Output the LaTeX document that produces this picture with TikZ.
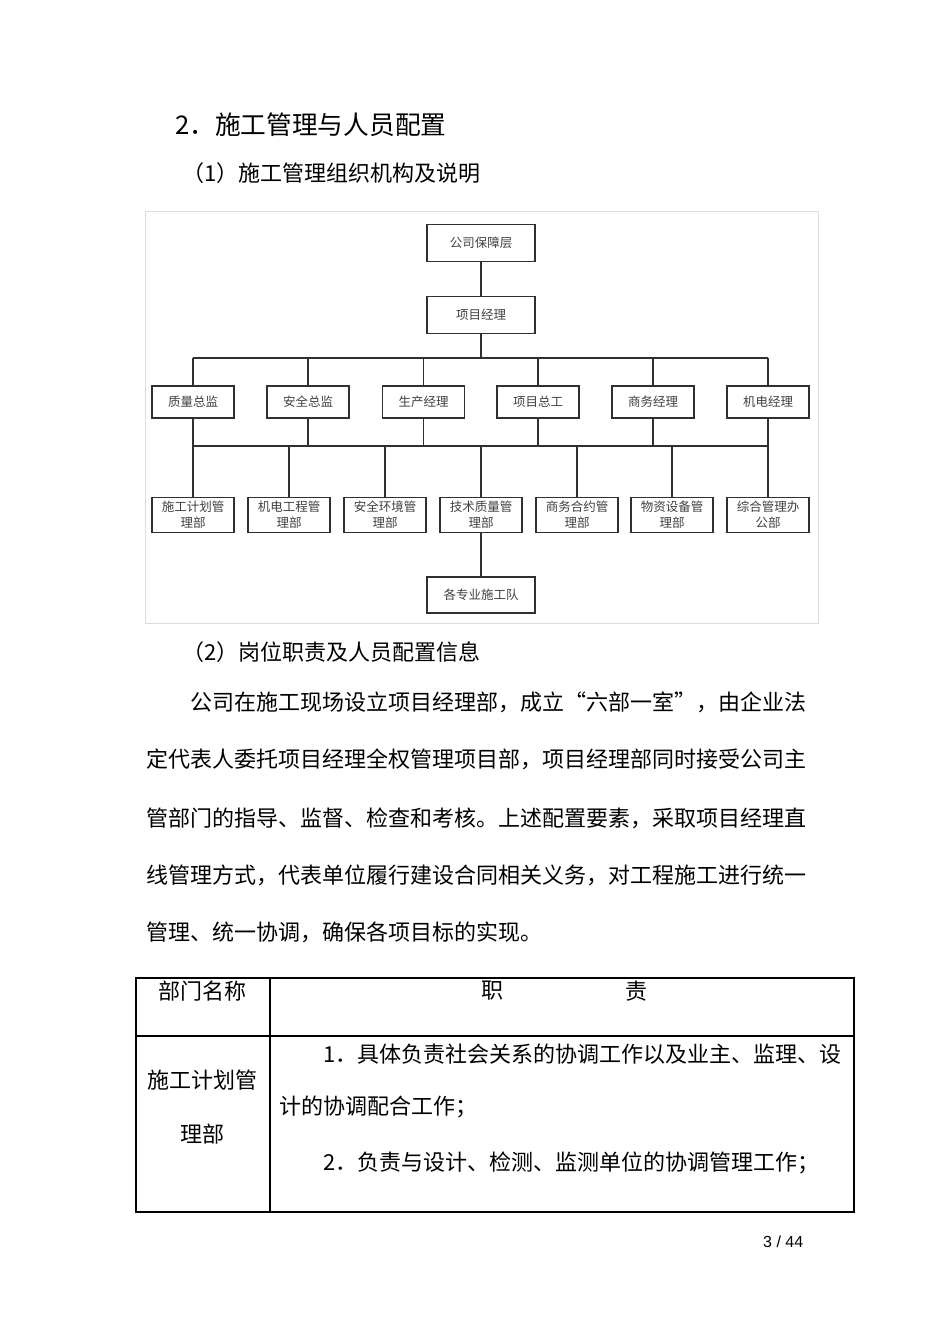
\documentclass[tikz,border=0pt]{standalone}
\usepackage{fontspec}
\setmainfont{Noto Sans CJK SC}
\newfontfamily\pagenumfont{Liberation Sans}
\XeTeXlinebreaklocale "zh"
\newcommand{\chartfont}{\fontsize{12.5}{16}\selectfont}
\newcommand{\bodyfont}{\fontsize{22}{22}\selectfont}
\newcommand{\headfont}{\fontsize{25.7}{26}\selectfont}
\definecolor{framegray}{HTML}{DDDDDD}
\definecolor{boxline}{HTML}{303030}
\definecolor{chartink}{HTML}{404040}
\tikzset{
  orgbox/.style={draw=boxline, line width=1.6pt, minimum width=82pt,
    minimum height=32pt, inner sep=1pt, text=chartink, font=\chartfont,
    align=center},
  topbox/.style={orgbox, minimum width=108pt, minimum height=37pt},
  deptbox/.style={orgbox, minimum height=35pt},
  link/.style={draw=boxline, line width=1.4pt},
  bodytext/.style={anchor=west, inner sep=0pt, font=\bodyfont},
  celltext/.style={inner sep=0pt, font=\bodyfont},
}
\begin{document}
\begin{tikzpicture}[x=1pt,y=-1pt]
  \useasboundingbox[fill=white] (0,0) rectangle (950,1344);
  % headings
  \node[bodytext, font=\headfont] (Title) at (175,125) {2．施工管理与人员配置};
  \node[bodytext] (SubOne) at (182,173) {（1）施工管理组织机构及说明};
  % org chart
  \draw[framegray] (145,211) rectangle (818,623);
  \node[topbox] (Company) at (481,243) {公司保障层};
  \node[topbox] (PM) at (481,315) {项目经理};
  \node[orgbox] (QualityDir) at (193,402) {质量总监};
  \node[orgbox] (SafetyDir) at (308,402) {安全总监};
  \node[orgbox] (ProdMgr) at (423.5,402) {生产经理};
  \node[orgbox] (ChiefEng) at (538,402) {项目总工};
  \node[orgbox] (BizMgr) at (653,402) {商务经理};
  \node[orgbox] (MepMgr) at (768,402) {机电经理};
  \node[deptbox] (PlanDept) at (193,515) {施工计划管\\理部};
  \node[deptbox] (MepDept) at (289,515) {机电工程管\\理部};
  \node[deptbox] (EnvDept) at (385,515) {安全环境管\\理部};
  \node[deptbox] (TechDept) at (481,515) {技术质量管\\理部};
  \node[deptbox] (ContractDept) at (577,515) {商务合约管\\理部};
  \node[deptbox] (SupplyDept) at (672,515) {物资设备管\\理部};
  \node[deptbox] (Office) at (768,515) {综合管理办\\公部};
  \node[topbox, minimum height=36pt] (Teams) at (481,595) {各专业施工队};
  \coordinate (BusTop) at (481,358);
  \coordinate (BusLow) at (481,446);
  \draw[link] (Company) -- (PM);
  \draw[link] (PM) -- (BusTop);
  \draw[link] (QualityDir.north |- BusTop) -- (MepMgr.north |- BusTop);
  \draw[link] (QualityDir) -- (QualityDir.north |- BusTop);
  \draw[link] (SafetyDir) -- (SafetyDir.north |- BusTop);
  \draw[link] (ProdMgr) -- (ProdMgr.north |- BusTop);
  \draw[link] (ChiefEng) -- (ChiefEng.north |- BusTop);
  \draw[link] (BizMgr) -- (BizMgr.north |- BusTop);
  \draw[link] (MepMgr) -- (MepMgr.north |- BusTop);
  \draw[link] (PlanDept.north |- BusLow) -- (Office.north |- BusLow);
  \draw[link] (QualityDir) -- (QualityDir.south |- BusLow);
  \draw[link] (SafetyDir) -- (SafetyDir.south |- BusLow);
  \draw[link] (ProdMgr) -- (ProdMgr.south |- BusLow);
  \draw[link] (ChiefEng) -- (ChiefEng.south |- BusLow);
  \draw[link] (BizMgr) -- (BizMgr.south |- BusLow);
  \draw[link] (MepMgr) -- (MepMgr.south |- BusLow);
  \draw[link] (PlanDept) -- (PlanDept.north |- BusLow);
  \draw[link] (MepDept) -- (MepDept.north |- BusLow);
  \draw[link] (EnvDept) -- (EnvDept.north |- BusLow);
  \draw[link] (TechDept) -- (TechDept.north |- BusLow);
  \draw[link] (ContractDept) -- (ContractDept.north |- BusLow);
  \draw[link] (SupplyDept) -- (SupplyDept.north |- BusLow);
  \draw[link] (Office) -- (Office.north |- BusLow);
  \draw[link] (TechDept) -- (Teams);
  % text
  \node[bodytext] (SubTwo) at (182,652) {（2）岗位职责及人员配置信息};
  \node[bodytext] (LineA) at (190,702) {公司在施工现场设立项目经理部，成立“六部一室”，由企业法};
  \node[bodytext] (LineB) at (146,759) {定代表人委托项目经理全权管理项目部，项目经理部同时接受公司主};
  \node[bodytext] (LineC) at (146,818) {管部门的指导、监督、检查和考核。上述配置要素，采取项目经理直};
  \node[bodytext] (LineD) at (146,875) {线管理方式，代表单位履行建设合同相关义务，对工程施工进行统一};
  \node[bodytext] (LineE) at (146,932) {管理、统一协调，确保各项目标的实现。};
  % table
  \draw[line width=1.1pt] (136,978) rectangle (854,1212);
  \draw[line width=1.1pt] (270,978) -- (270,1212);
  \draw[line width=1.1pt] (136,1036) -- (854,1036);
  \node[celltext, anchor=west] (HeadDept) at (158,991) {部门名称};
  \node[celltext] (HeadDutyA) at (492,991) {职};
  \node[celltext] (HeadDutyB) at (636,991) {责};
  \node[celltext, anchor=west] (DeptA) at (147,1080) {施工计划管};
  \node[celltext, anchor=west] (DeptB) at (180,1134) {理部};
  \node[celltext, anchor=west] (DutyA) at (323,1054) {1．具体负责社会关系的协调工作以及业主、监理、设};
  \node[celltext, anchor=west] (DutyB) at (279,1107) {计的协调配合工作；};
  \node[celltext, anchor=west] (DutyC) at (323,1163) {2．负责与设计、检测、监测单位的协调管理工作；};
  % page number
  \node[anchor=west, inner sep=0pt, font=\pagenumfont\fontsize{16}{16}\selectfont] (PageNum) at (763,1242) {3 / 44};
\end{tikzpicture}
\end{document}
